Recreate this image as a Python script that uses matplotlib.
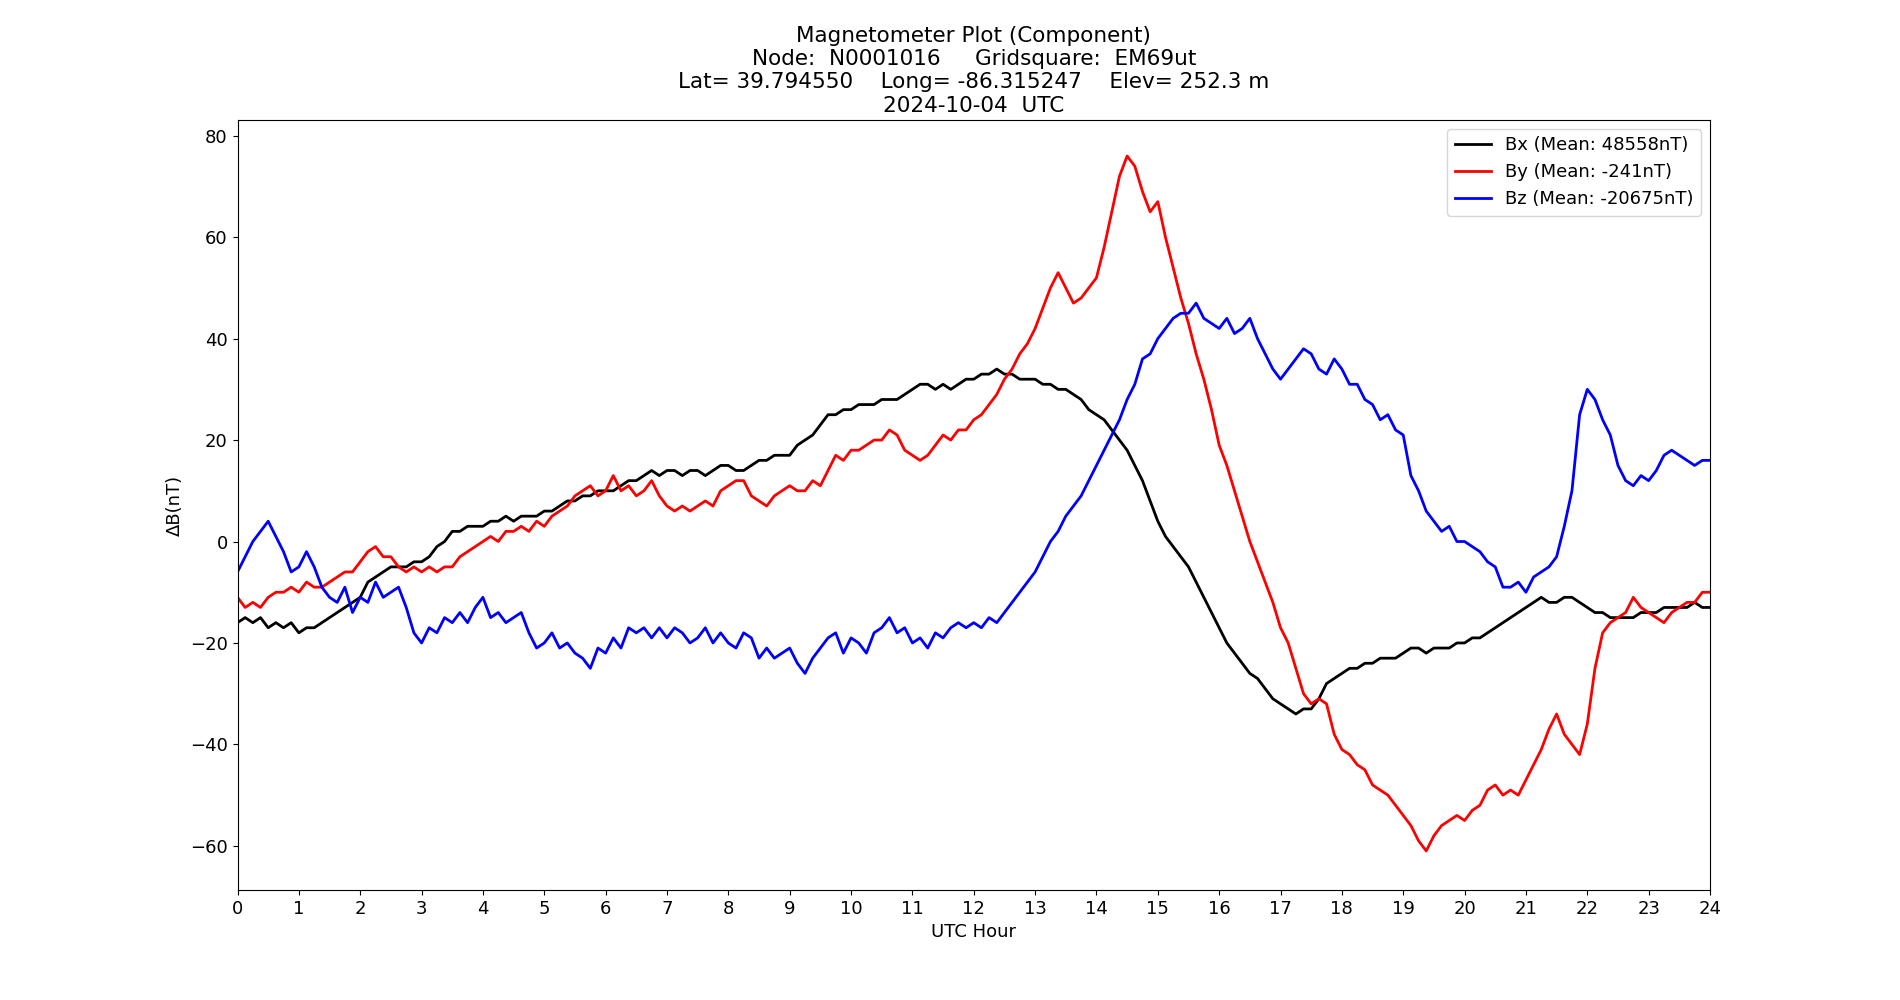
import numpy as np
import matplotlib
matplotlib.use("Agg")
import matplotlib.pyplot as plt

# Hora UTC cada 7.5 minutos (0.125 h)
horas = np.arange(0, 24.0001, 0.125)

# Valores, nT respecto a la media (una fila = una hora)
bx = [-16, -15, -16, -15, -17, -16, -17, -16,
      -18, -17, -17, -16, -15, -14, -13, -12,
      -11, -8, -7, -6, -5, -5, -5, -4,
      -4, -3, -1, 0, 2, 2, 3, 3,
      3, 4, 4, 5, 4, 5, 5, 5,
      6, 6, 7, 8, 8, 9, 9, 10,
      10, 10, 11, 12, 12, 13, 14, 13,
      14, 14, 13, 14, 14, 13, 14, 15,
      15, 14, 14, 15, 16, 16, 17, 17,
      17, 19, 20, 21, 23, 25, 25, 26,
      26, 27, 27, 27, 28, 28, 28, 29,
      30, 31, 31, 30, 31, 30, 31, 32,
      32, 33, 33, 34, 33, 33, 32, 32,
      32, 31, 31, 30, 30, 29, 28, 26,
      25, 24, 22, 20, 18, 15, 12, 8,
      4, 1, -1, -3, -5, -8, -11, -14,
      -17, -20, -22, -24, -26, -27, -29, -31,
      -32, -33, -34, -33, -33, -31, -28, -27,
      -26, -25, -25, -24, -24, -23, -23, -23,
      -22, -21, -21, -22, -21, -21, -21, -20,
      -20, -19, -19, -18, -17, -16, -15, -14,
      -13, -12, -11, -12, -12, -11, -11, -12,
      -13, -14, -14, -15, -15, -15, -15, -14,
      -14, -14, -13, -13, -13, -13, -12, -13,
      -13]

by = [-11, -13, -12, -13, -11, -10, -10, -9,
      -10, -8, -9, -9, -8, -7, -6, -6,
      -4, -2, -1, -3, -3, -5, -6, -5,
      -6, -5, -6, -5, -5, -3, -2, -1,
      0, 1, 0, 2, 2, 3, 2, 4,
      3, 5, 6, 7, 9, 10, 11, 9,
      10, 13, 10, 11, 9, 10, 12, 9,
      7, 6, 7, 6, 7, 8, 7, 10,
      11, 12, 12, 9, 8, 7, 9, 10,
      11, 10, 10, 12, 11, 14, 17, 16,
      18, 18, 19, 20, 20, 22, 21, 18,
      17, 16, 17, 19, 21, 20, 22, 22,
      24, 25, 27, 29, 32, 34, 37, 39,
      42, 46, 50, 53, 50, 47, 48, 50,
      52, 58, 65, 72, 76, 74, 69, 65,
      67, 60, 54, 48, 43, 37, 32, 26,
      19, 15, 10, 5, 0, -4, -8, -12,
      -17, -20, -25, -30, -32, -31, -32, -38,
      -41, -42, -44, -45, -48, -49, -50, -52,
      -54, -56, -59, -61, -58, -56, -55, -54,
      -55, -53, -52, -49, -48, -50, -49, -50,
      -47, -44, -41, -37, -34, -38, -40, -42,
      -36, -25, -18, -16, -15, -14, -11, -13,
      -14, -15, -16, -14, -13, -12, -12, -10,
      -10]

bz = [-6, -3, 0, 2, 4, 1, -2, -6,
      -5, -2, -5, -9, -11, -12, -9, -14,
      -11, -12, -8, -11, -10, -9, -13, -18,
      -20, -17, -18, -15, -16, -14, -16, -13,
      -11, -15, -14, -16, -15, -14, -18, -21,
      -20, -18, -21, -20, -22, -23, -25, -21,
      -22, -19, -21, -17, -18, -17, -19, -17,
      -19, -17, -18, -20, -19, -17, -20, -18,
      -20, -21, -18, -19, -23, -21, -23, -22,
      -21, -24, -26, -23, -21, -19, -18, -22,
      -19, -20, -22, -18, -17, -15, -18, -17,
      -20, -19, -21, -18, -19, -17, -16, -17,
      -16, -17, -15, -16, -14, -12, -10, -8,
      -6, -3, 0, 2, 5, 7, 9, 12,
      15, 18, 21, 24, 28, 31, 36, 37,
      40, 42, 44, 45, 45, 47, 44, 43,
      42, 44, 41, 42, 44, 40, 37, 34,
      32, 34, 36, 38, 37, 34, 33, 36,
      34, 31, 31, 28, 27, 24, 25, 22,
      21, 13, 10, 6, 4, 2, 3, 0,
      0, -1, -2, -4, -5, -9, -9, -8,
      -10, -7, -6, -5, -3, 3, 10, 25,
      30, 28, 24, 21, 15, 12, 11, 13,
      12, 14, 17, 18, 17, 16, 15, 16,
      16]

etiquetas = ['Bx (Mean: 48558nT)', 'By (Mean: -241nT)', 'Bz (Mean: -20675nT)']

titulo = ("Magnetometer Plot (Component)\n"
          "Node:  N0001016     Gridsquare:  EM69ut\n"
          "Lat= 39.794550    Long= -86.315247    Elev= 252.3 m\n"
          "2024-10-04  UTC")

fig = plt.figure(figsize=(19, 10), dpi=100)
ax = fig.add_subplot(111)
ax.plot(horas, bx, color='black', lw=2, label=etiquetas[0])
ax.plot(horas, by, color='red', lw=2, label=etiquetas[1])
ax.plot(horas, bz, color='blue', lw=2, label=etiquetas[2])

ax.set_xlim(0, 24)
ax.set_ylim(-68.7, 83.1)
ax.set_xticks(np.arange(0, 25, 1))
ax.tick_params(labelsize=13)
ax.set_xlabel('UTC Hour', fontsize=13)
ax.set_ylabel('ΔB(nT)', fontsize=13)
ax.set_title(titulo, fontsize=15.5)
ax.legend(loc='upper right', fontsize=13)

fig.savefig('out.png', dpi=100)
